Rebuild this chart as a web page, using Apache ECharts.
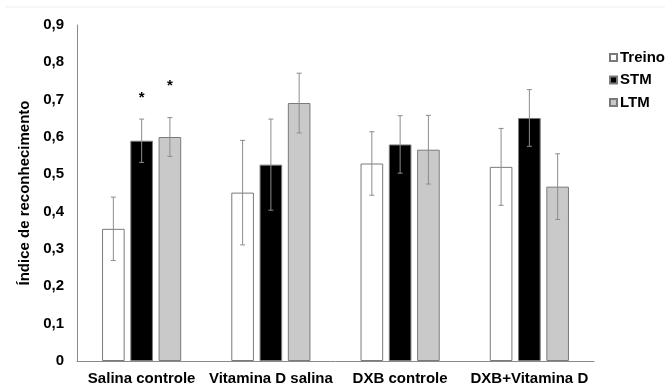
<!DOCTYPE html>
<html>
<head>
<meta charset="utf-8">
<script src="https://cdn.jsdelivr.net/npm/echarts@6/dist/echarts.min.js"></script>
<style>html,body{margin:0;padding:0;background:#fff}#c{width:672px;height:389px}</style>
</head>
<body>
<div id="c"></div>
<script>
var categories = ['Salina controle', 'Vitamina D salina', 'DXB controle', 'DXB+Vitamina D'];
var seriesNames = ['Treino', 'STM', 'LTM'];
var treino = [0.354, 0.451, 0.529, 0.520];
var stm = [0.590, 0.526, 0.580, 0.651];
var ltm = [0.600, 0.691, 0.566, 0.467];
var treinoErr = [0.085, 0.140, 0.085, 0.103];
var stmErr = [0.058, 0.122, 0.077, 0.076];
var ltmErr = [0.052, 0.080, 0.092, 0.088];
// significance stars: [categoryIndex, seriesIndex, yValue]
var stars = [[0, 1, 0.711], [0, 2, 0.742]];
var yTicks = ['0', '0,1', '0,2', '0,3', '0,4', '0,5', '0,6', '0,7', '0,8', '0,9'];

var values = [treino, stm, ltm];
var errs = [treinoErr, stmErr, ltmErr];
var fills = ['#ffffff', '#000000', '#c9c9c9'];
var BW = 0.175, GAP = 0.25;

function offsetFor(si, band) {
  var bw = band * BW;
  return (si - 1) * (bw + bw * GAP);
}

var chart = echarts.init(document.getElementById('c'));
var series = [];
seriesNames.forEach(function (n, i) {
  series.push({
    name: n, type: 'bar', data: values[i],
    barWidth: (BW * 100) + '%', barGap: (GAP * 100) + '%',
    itemStyle: { color: fills[i], borderColor: '#7a7a7a', borderWidth: 1 },
    emphasis: { disabled: true }
  });
});
var errData = [];
for (var s = 0; s < 3; s++) for (var c = 0; c < 4; c++) errData.push([c, values[s][c] - errs[s][c], values[s][c] + errs[s][c], s]);
series.push({
  type: 'custom', silent: true, z: 10,
  data: errData,
  encode: { x: 0, y: [1, 2] },
  renderItem: function (params, api) {
    var c = api.value(0), lo = api.value(1), hi = api.value(2), s = api.value(3);
    var band = api.size([1, 0])[0];
    var p1 = api.coord([c, lo]), p2 = api.coord([c, hi]);
    var x = p1[0] + offsetFor(s, band);
    var st = { stroke: '#8c8c8c', lineWidth: 1 };
    return { type: 'group', children: [
      { type: 'line', shape: { x1: x, y1: p1[1], x2: x, y2: p2[1] }, style: st },
      { type: 'line', shape: { x1: x - 2.5, y1: p1[1], x2: x + 2.5, y2: p1[1] }, style: st },
      { type: 'line', shape: { x1: x - 2.5, y1: p2[1], x2: x + 2.5, y2: p2[1] }, style: st }
    ]};
  }
});
series.push({
  type: 'custom', silent: true, z: 11,
  data: stars.map(function (d) { return [d[0], d[2], d[1]]; }),
  encode: { x: 0, y: 1 },
  renderItem: function (params, api) {
    var c = api.value(0), y = api.value(1), s = api.value(2);
    var band = api.size([1, 0])[0];
    var p = api.coord([c, y]);
    return { type: 'text', x: p[0] + offsetFor(s, band), y: p[1] + 2,
      style: { text: '*', fill: '#000', font: 'bold 15px "Liberation Sans", Arial, sans-serif', align: 'center', verticalAlign: 'middle' } };
  }
});

chart.setOption({
  animation: false,
  textStyle: { fontFamily: '"Liberation Sans", Arial, sans-serif' },
  graphic: [{ type: 'line', shape: { x1: 5, y1: 7, x2: 665, y2: 7 }, style: { stroke: '#eeeeee', lineWidth: 1 } }],
  grid: { left: 77, right: 78, top: 25, bottom: 28 },
  legend: {
    orient: 'vertical', left: 604, top: 45, itemGap: 7.5,
    itemWidth: 7, itemHeight: 7, icon: 'rect',
    data: seriesNames,
    textStyle: { fontSize: 15, fontWeight: 'bold', color: '#000', padding: [0, 0, 0, -2] }
  },
  xAxis: {
    type: 'category', data: categories,
    axisLine: { lineStyle: { color: '#8a8a8a', width: 1 } },
    axisTick: { show: false },
    axisLabel: { fontSize: 15, fontWeight: 'bold', color: '#000', margin: 10, interval: 0 }
  },
  yAxis: {
    type: 'value', min: 0, max: 0.9, interval: 0.1,
    name: 'Índice de reconhecimento', nameLocation: 'middle', nameGap: 45, nameRotate: 90,
    nameTextStyle: { fontSize: 15, fontWeight: 'bold', color: '#000' },
    axisLine: { show: true, lineStyle: { color: '#8a8a8a', width: 1 } },
    axisTick: { show: false },
    splitLine: { show: false },
    axisLabel: { fontSize: 15, fontWeight: 'bold', color: '#000', margin: 13,
      formatter: function (v) { return yTicks[Math.round(v * 10)]; } }
  },
  series: series
});
</script>
</body>
</html>
